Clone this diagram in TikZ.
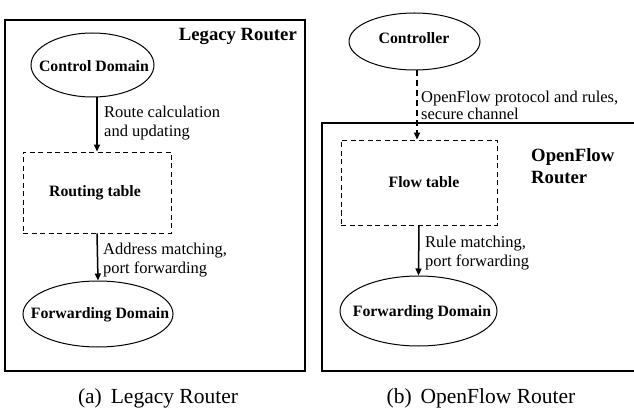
\documentclass[tikz,border=0pt]{standalone}
\usepackage{fontspec}
\setmainfont{Liberation Serif}
\usetikzlibrary{shapes.geometric,arrows.meta}
\begin{document}
\begin{tikzpicture}[x=1pt,y=-1pt,
  frameline/.style={line width=1.8pt},
  oval/.style={ellipse,draw,line width=1pt,inner sep=0pt},
  dbox/.style={draw,line width=0.9pt,dash pattern=on 5pt off 3.5pt},
  boldtext/.style={font=\fontsize{15.8}{18}\selectfont\bfseries,inner sep=0pt},
  titletext/.style={font=\fontsize{18.7}{22}\selectfont\bfseries,inner sep=0pt,align=left},
  lbl/.style={font=\fontsize{16.5}{19.5}\selectfont,inner sep=0pt,align=left,anchor=west},
  captext/.style={font=\fontsize{21.5}{24}\selectfont,inner sep=0pt},
  arr/.style={line width=1.5pt,-{Triangle[length=7pt,width=6pt]}},
  darr/.style={arr,line width=1.8pt,dash pattern=on 6pt off 4pt}]
\useasboundingbox (0,0) rectangle (634,414);
% ---------- (a) Legacy Router ----------
\draw[frameline] (5,20) rectangle (305,371);
\node[titletext,anchor=base east] (lrt) at (297,41) {Legacy Router};
\node[oval,minimum width=123pt,minimum height=64pt] (cd) at (92.5,65) {};
\node[boldtext] (cdt) at (94,66) {Control Domain};
\node[dbox,minimum width=148pt,minimum height=81pt] (rt) at (97,192.5) {};
\node[boldtext] (rtt) at (95,193) {Routing table};
\node[oval,minimum width=150pt,minimum height=66pt] (fd) at (98,314) {};
\node[boldtext] (fdt) at (100,315) {Forwarding Domain};
\draw[arr] (cd.south -| rt.north) -- (rt.north);
\draw[arr] (rt.south) -- (fd.north);
\node[lbl] (l1) at (104,123) {Route calculation\\and updating};
\node[lbl] (l2) at (103,260) {Address matching,\\port forwarding};
\node[captext] (capa) at (158,398) {(a)\, Legacy Router};
% ---------- (b) OpenFlow Router ----------
\draw[frameline] (636,123) -| (322,371) -- (636,371);
\node[oval,minimum width=131pt,minimum height=57pt] (ct) at (414.5,41.5) {};
\node[boldtext] (ctt) at (414,38) {Controller};
\node[dbox,minimum width=156pt,minimum height=85pt] (ft) at (419,182.5) {};
\node[boldtext] (ftt) at (424,182) {Flow table};
\node[titletext,anchor=north west] (oft) at (531,148) {OpenFlow\\Router};
\node[oval,minimum width=157pt,minimum height=70pt] (fd2) at (418.5,311) {};
\node[boldtext] (fd2t) at (422,313) {Forwarding Domain};
\draw[darr] (ct.south -| ft.north) ++(-2,0) coordinate (cs) -- (cs |- ft.north);
\draw[arr] (ft.south) -- (fd2.north);
\node[lbl,font=\fontsize{16.5}{17}\selectfont] (l3) at (421,105) {OpenFlow protocol and rules,\\secure channel};
\node[lbl] (l4) at (425,253) {Rule matching,\\port forwarding};
\node[captext] (capb) at (481,398) {(b)\, OpenFlow Router};
\end{tikzpicture}
\end{document}
